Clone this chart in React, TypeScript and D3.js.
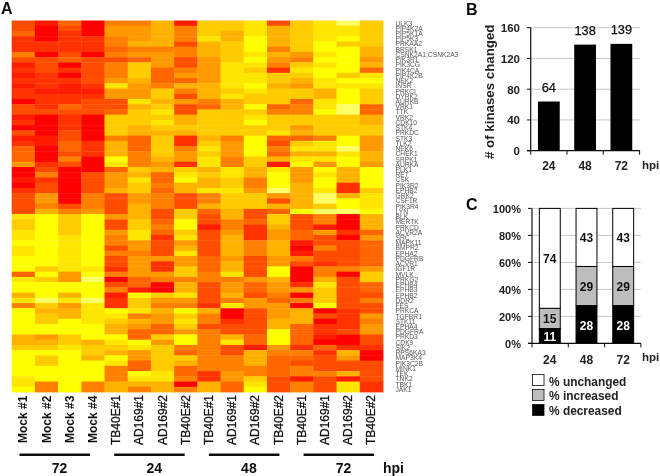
import React from 'react';
import * as d3 from 'd3';

// heatmap levels per sample, read top to bottom: 0 = red ... a = yellow, b = pale yellow
const samples = [
  'Mock #1', 'Mock #2', 'Mock #3', 'Mock #4',
  'TB40E#1', 'AD169#1', 'AD169#2', 'TB40E#2',
  'TB40E#1', 'AD169#1', 'AD169#2', 'TB40E#2',
  'TB40E#1', 'AD169#1', 'AD169#2', 'TB40E#2',
];

const upperCluster = [
  '3342225312 1212203312 0312444600 1023333',
  '1000220333 2221222300 0011000235 2336657',
  '4322223402 0211224322 2334435300 0000035',
  '0002220333 3321233300 0002220003 3335556',
  '5665545355 5696633488 885777a946 6673333',
  '5666756488 8766697888 7744455587 9886677',
  '7777756664 4458878989 8788887674 4545553',
  '1555355335 6475363377 8722566289 a773338',
  '8889777666 6677754888 8878989978 7795574',
  '8877888899 9998977888 8856665599 8898887',
  '999aaa9a98 99a988a89a 88aaaa8877 5568883',
  '3777757652 8878884588 894354719a aab6374',
  '8888886589 8768845588 6748979a66 677777a',
  '9999aa9a9a a997799a88 885997 96a9 aa9bb8b',
  'b99a8aaaaa 8a9aaabb88 88aab9aa77 7227aab',
  '8888877674 9a98884477 886667 76aa aa8999a',
];

const lowerCluster = [
  '98899a99aa a49aa795aa aaa778aaaa a99a',
  'aaaaaaaaaa 8a8aaab878 8aa678a88a aa55',
  '8888999999 966aa79677 aaa889aaaa aaaa',
  'aaaaaaaaaa 9abaaab999 9aaa7887aa aa55',
  '6336553533 25035122a9 877a987a95 5577',
  '7889966566 66441a8895 7644a96644 a975',
  '3454233362 2650086576 6448688888 9977',
  '8aa8967966 885779 65a8 986aa54874 4505',
  '3313333344 4553333275 5355555555 2277',
  '7556777767 7956675900 2337933555 6644',
  '3422255533 3364436633 3334417775 589a',
  '8876677766 aa76654666 77aaa65444 4333',
  '3334410153 0002605077 7444425435 5155',
  '5516335332 5579888a03 0221042333 5333',
  '0002033333 5033333322 2230027633 7199',
  '7774644444 6884435336 5663320033 3322',
];

const geneLabels = [
  'ULK3', 'PIP4K2A', 'PIP5K1A', 'PIP5K3', 'PRKAA2', 'BRSK1', 'CSNK2A1;CSNK2A3', 'PIK3R1',
  'PIK3CG', 'PIK4CA', 'PIP4K2B', 'NEK2', 'INSR', 'PRKCI', 'DYRK2', 'AURKB', 'VRK1', 'TTK',
  'VRK2', 'CDK10', 'STK4', 'PRKDC', 'STK3', 'TLK2', 'NEK6', 'CHEK1', 'SRPK1', 'AURKA',
  'PLK1', 'RET', 'CSK', 'PIK3R2', 'EPHB2', 'GRK2', 'CSF1R', 'PIK3R4', 'LYN',
  'BLK', 'MERTK', 'PRKCD', 'ACVR2A', 'SRC', 'MAPK11', 'BMPR2', 'EPHA2', 'PDGFRB', 'ACVR1',
  'IGF1R', 'MVLK', 'PRKG2', 'EPHB4', 'EPHB3', 'EPHB2', 'DDR2', 'FES', 'PRKCA', 'TGFBR1',
  'STK11', 'EPHA4', 'PDGFRA', 'PRKD3', 'CDK9', 'SIK2', 'RPS6KA3', 'MAP3K4', 'PIK3C2B', 'MINK1',
  'TEK', 'TNK2', 'TBK1', 'JAK1',
];

const hours = ['24', '48', '72'];
const kinasesChanged = [64, 138, 139];
const kinaseTicks = [0, 40, 80, 120, 160];

const pctDecreased = [11, 28, 28];
const pctIncreased = [15, 29, 29];
const pctUnchanged = [74, 43, 43];
const pctTicks = [0, 20, 40, 60, 80, 100];

const hpiGroups = ['72', '24', '48', '72'];

const sansBold = { fontFamily: 'Liberation Sans, Arial, sans-serif', fontWeight: 700 };

const heatColor = (level: number) =>
  level > 10 ? '#ffff66' : d3.rgb(255, level * 25.5, 0).formatHex();

function Heatmap() {
  const columns = samples.map((_, i) =>
    (upperCluster[i] + lowerCluster[i]).replace(/ /g, ''),
  );
  const rows = d3.range(71);
  const x = d3.scaleBand<number>().domain(d3.range(16)).range([11.7, 383]);
  const y = d3.scaleBand<number>().domain(rows).range([20.5, 392]);

  return (
    <g>
      <g style={{ filter: 'url(#soft)' }}>
        {columns.flatMap((col, c) =>
          rows.map((r) => (
            <rect
              key={`${c}-${r}`}
              x={x(c)}
              y={y(r)}
              width={x.bandwidth() + 0.4}
              height={y.bandwidth() + 0.4}
              fill={heatColor(parseInt(col[r] ?? '5', 16))}
            />
          )),
        )}
      </g>
      <g style={{ filter: 'url(#blur)' }} fontFamily="Liberation Sans, Arial, sans-serif" fontSize={6.7} fill="#555">
        {geneLabels.map((g, i) => (
          <text key={i} x={395.5} y={(y(i) as number) + 5}>
            {g}
          </text>
        ))}
      </g>
      <g style={{ filter: 'url(#text)' }}>
        {samples.map((s, i) => (
          <text
            key={i}
            transform={`translate(${(x(i) as number) + x.bandwidth() / 2 + 4},${i < 4 ? 443 : 445}) rotate(-90)`}
            {...sansBold}
            fontWeight={i < 4 ? 700 : 400}
            stroke="#000"
            strokeWidth={i < 4 ? 0 : 0.25}
            fontSize={12}
            fill="#111"
          >
            {s}
          </text>
        ))}
        {hpiGroups.map((h, i) => {
          const x0 = 19.5 + i * 94.7;
          return (
            <g key={i}>
              <line x1={x0} x2={x0 + 70.5} y1={454.7} y2={454.7} stroke="#111" strokeWidth={2.6} />
              <text x={x0 + 40} y={472.5} textAnchor="middle" fontSize={14} {...sansBold} fill="#111">
                {h}
              </text>
            </g>
          );
        })}
        <text x={383} y={472.5} fontSize={14} {...sansBold} fill="#111">hpi</text>
        <text x={1} y={14} fontSize={16} {...sansBold} fill="#111">A</text>
      </g>
    </g>
  );
}

function KinaseBars() {
  const x = d3.scaleBand().domain(hours).range([530.7, 639.5]).paddingInner(0.4).paddingOuter(0.2);
  const y = d3.scaleLinear().domain([0, 160]).range([150.7, 27.7]);
  return (
    <g style={{ filter: 'url(#text)' }}>
      <text x={466} y={14.5} fontSize={16} {...sansBold} fill="#111">B</text>
      {kinaseTicks.slice(1).map((t) => (
        <line key={t} x1={531} x2={640} y1={y(t)} y2={y(t)} stroke="#c8c8c8" />
      ))}
      {hours.map((h, i) => (
        <g key={h}>
          <rect x={x(h)} y={y(kinasesChanged[i])} width={x.bandwidth()} height={y(0) - y(kinasesChanged[i])} fill="#000" />
          <text x={(x(h) as number) + x.bandwidth() / 2} y={y(kinasesChanged[i]) - 9.5} textAnchor="middle" fontSize={12.8} fontFamily="Liberation Sans, Arial, sans-serif" stroke="#111" strokeWidth={0.25} fill="#111">
            {kinasesChanged[i]}
          </text>
          <text x={(x(h) as number) + x.bandwidth() / 2} y={170} textAnchor="middle" fontSize={12} {...sansBold} fill="#222">{h}</text>
        </g>
      ))}
      <line x1={530.7} x2={530.7} y1={y(160)} y2={y(0)} stroke="#111" strokeWidth={1.2} />
      <line x1={527} x2={640} y1={y(0)} y2={y(0)} stroke="#111" strokeWidth={1.2} />
      {kinaseTicks.map((t) => (
        <g key={t}>
          <line x1={527} x2={531} y1={y(t)} y2={y(t)} stroke="#111" />
          <text x={520} y={y(t) + 4.5} textAnchor="end" fontSize={11.5} {...sansBold} fill="#222">{t}</text>
        </g>
      ))}
      {[0, 1, 2, 3].map((i) => (
        <line key={i} x1={530.7 + i * 36.3} x2={530.7 + i * 36.3} y1={y(0)} y2={y(0) + 4} stroke="#111" />
      ))}
      <text transform="translate(494,159) rotate(-90)" fontSize={13.3} {...sansBold} fill="#222">
        # of kinases changed
      </text>
      <text x={642} y={168.5} fontSize={11.5} {...sansBold} fill="#222">hpi</text>
    </g>
  );
}

function StackedBars() {
  const x = d3.scaleBand().domain(hours).range([532, 641]).paddingInner(0.43).paddingOuter(0.2);
  const y = d3.scaleLinear().domain([0, 100]).range([343.4, 208.4]);
  const stack = d3.stack<number>()
    .keys(['decreased', 'increased', 'unchanged'])
    .value((i, key) =>
      (key === 'decreased' ? pctDecreased : key === 'increased' ? pctIncreased : pctUnchanged)[i],
    );
  const layers = stack([0, 1, 2]);
  const fills = ['#000', '#bdbdbd', '#fff'];
  const textFills = ['#fff', '#111', '#111'];
  const legend = [
    { label: '% unchanged', fill: '#fff' },
    { label: '% increased', fill: '#bdbdbd' },
    { label: '% decreased', fill: '#000' },
  ];
  return (
    <g style={{ filter: 'url(#text)' }}>
      <text x={466} y={210} fontSize={16} {...sansBold} fill="#111">C</text>
      {pctTicks.slice(1).map((t) => (
        <line key={t} x1={532} x2={641} y1={y(t)} y2={y(t)} stroke="#c8c8c8" />
      ))}
      {layers.map((layer, l) =>
        layer.map((d, i) => {
          const top = y(d[1]);
          const bottom = y(d[0]);
          const label = [pctDecreased, pctIncreased, pctUnchanged][l][i];
          return (
            <g key={`${l}-${i}`}>
              <rect
                x={x(hours[i])}
                y={top}
                width={x.bandwidth()}
                height={bottom - top}
                fill={fills[l]}
                stroke="#000"
                strokeWidth={1}
              />
              <text
                x={(x(hours[i]) as number) + x.bandwidth() / 2}
                y={(top + bottom) / 2 + 5}
                textAnchor="middle"
                fontSize={12}
                {...sansBold}
                fill={textFills[l]}
              >
                {label}
              </text>
            </g>
          );
        }),
      )}
      <line x1={532} x2={532} y1={y(100)} y2={y(0)} stroke="#111" strokeWidth={1.2} />
      <line x1={528} x2={641} y1={y(0)} y2={y(0)} stroke="#111" strokeWidth={1.2} />
      {pctTicks.map((t) => (
        <g key={t}>
          <line x1={528} x2={532} y1={y(t)} y2={y(t)} stroke="#111" />
          <text x={521} y={y(t) + 4.7} textAnchor="end" fontSize={11} {...sansBold} fill="#222">{`${t}%`}</text>
        </g>
      ))}
      {[0, 1, 2, 3].map((i) => (
        <line key={i} x1={532 + i * 36.3} x2={532 + i * 36.3} y1={y(0)} y2={y(0) + 4} stroke="#111" />
      ))}
      {hours.map((h) => (
        <text key={h} x={(x(h) as number) + x.bandwidth() / 2} y={363.5} textAnchor="middle" fontSize={12} {...sansBold} fill="#222">{h}</text>
      ))}
      <text x={642} y={361} fontSize={11.5} {...sansBold} fill="#222">hpi</text>
      {legend.map((d, i) => (
        <g key={d.label}>
          <rect x={532.5} y={374.5 + i * 15} width={11.5} height={11} fill={d.fill} stroke="#111" strokeWidth={0.8} />
          <text x={549} y={385.7 + i * 14.7} fontSize={11.9} {...sansBold} fill="#222">{d.label}</text>
        </g>
      ))}
    </g>
  );
}

export default function App() {
  return (
    <svg width={660} height={476} style={{ position: 'absolute', left: 0, top: 0, background: '#fff' }}>
      <defs>
        <filter id="soft" x="-2%" y="-2%" width="104%" height="104%">
          <feGaussianBlur stdDeviation="0.6" />
        </filter>
        <filter id="blur" x="-5%" y="-2%" width="110%" height="104%">
          <feGaussianBlur stdDeviation="0.45" />
        </filter>
        <filter id="text" x="-5%" y="-5%" width="110%" height="110%">
          <feGaussianBlur stdDeviation="0.35" />
        </filter>
      </defs>
      <Heatmap />
      <KinaseBars />
      <StackedBars />
    </svg>
  );
}
